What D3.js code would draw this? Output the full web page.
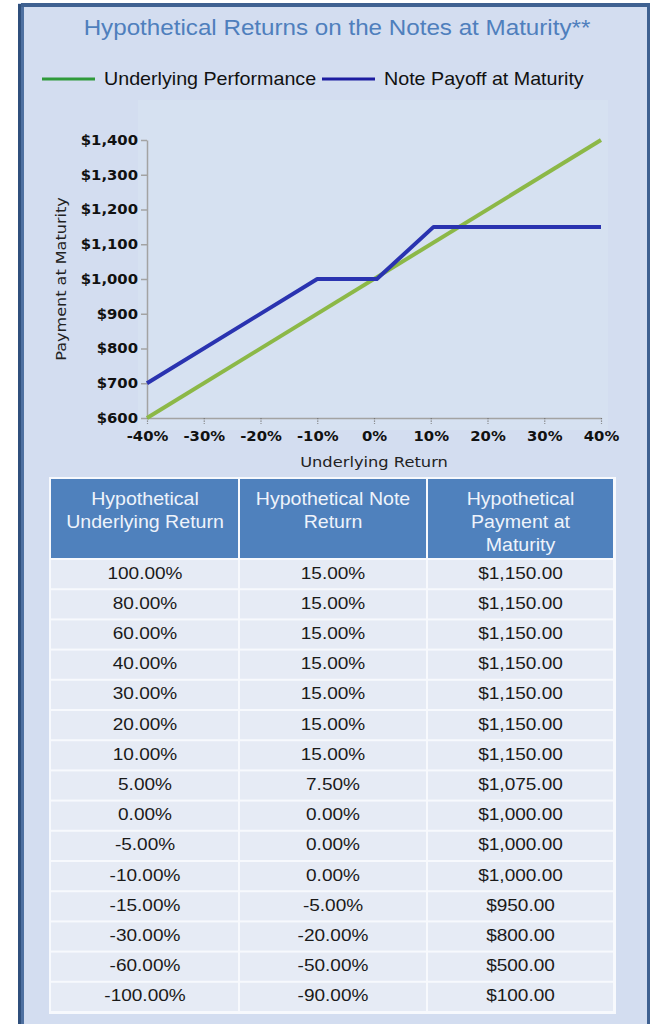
<!DOCTYPE html>
<html><head><meta charset="utf-8">
<script src="https://cdn.jsdelivr.net/npm/d3@7"></script>
<style>
html,body{margin:0;padding:0;background:#fff;}
svg{display:block;}
</style></head>
<body>
<script>
// ---- data ----
const xTicks = [-40, -30, -20, -10, 0, 10, 20, 30, 40];
const yTicks = [600, 700, 800, 900, 1000, 1100, 1200, 1300, 1400];
const underlyingX = [-40, 40];
const underlyingY = [600, 1400];
const noteX = [-40, -10, 0.5, 10.5, 40];
const noteY = [700, 1000, 1000, 1150, 1150];
const seriesNames = ["Underlying Performance", "Note Payoff at Maturity"];
const headers = [["Hypothetical", "Underlying Return"], ["Hypothetical Note", "Return"], ["Hypothetical", "Payment at", "Maturity"]];
const underlyingReturn = [100, 80, 60, 40, 30, 20, 10, 5, 0, -5, -10, -15, -30, -60, -100];
const noteReturn = [15, 15, 15, 15, 15, 15, 15, 7.5, 0, 0, 0, -5, -20, -50, -90];
const payment = [1150, 1150, 1150, 1150, 1150, 1150, 1150, 1075, 1000, 1000, 1000, 950, 800, 500, 100];

const W = 650, H = 1024, SX = 1.1;
const loc = d3.formatLocale({decimal: ".", thousands: ",", grouping: [3], currency: ["$", ""], minus: "-"});
const svg = d3.select("body").append("svg").attr("width", W).attr("height", H);

// frame
svg.append("rect").attr("x", 0).attr("y", 0).attr("width", W).attr("height", H).attr("fill", "#ffffff");
svg.append("rect").attr("x", 18).attr("y", 3).attr("width", W - 18).attr("height", H - 3).attr("fill", "#d3ddf0");
svg.append("rect").attr("x", 18).attr("y", 4).attr("width", 3).attr("height", H).attr("fill", "#2f4f7c");
svg.append("rect").attr("x", 21).attr("y", 4).attr("width", 3).attr("height", H).attr("fill", "#4e70a0");
svg.append("rect").attr("x", 21).attr("y", 3).attr("width", W - 21).attr("height", 4).attr("fill", "#3f6191");
svg.append("rect").attr("x", 647).attr("y", 3).attr("width", 3).attr("height", H).attr("fill", "#3f6191");

function txt(g, x, y, s, opts) {
  const t = g.append("text").attr("transform", `translate(${x},${y}) scale(${SX},1)`)
    .text(s).attr("font-family", opts.family || "'Liberation Sans', Arial, sans-serif")
    .attr("font-size", opts.size).attr("fill", opts.fill || "#1a1a1a")
    .attr("text-anchor", opts.anchor || "middle");
  if (opts.weight) t.attr("font-weight", opts.weight);
  return t;
}

// title
txt(svg, 337, 35, "Hypothetical Returns on the Notes at Maturity**", {size: 22, fill: "#4f7fbd"});

// legend
const lineColors = ["#2f9a3a", "#1c1ca0"];
const legendX = [42, 322];
seriesNames.forEach((n, i) => {
  svg.append("line").attr("x1", legendX[i]).attr("x2", legendX[i] + 53).attr("y1", 79).attr("y2", 79)
    .attr("stroke", lineColors[i]).attr("stroke-width", 3);
  txt(svg, legendX[i] + 62, 85, n, {size: 17.9, anchor: "start", fill: "#111"});
});

// plot
const x = d3.scaleLinear().domain([-40, 40]).range([147, 601]);
const y = d3.scaleLinear().domain([600, 1400]).range([418, 140]);
svg.append("rect").attr("x", 138).attr("y", 100).attr("width", 470).attr("height", 330).attr("fill", "#d6e1f1");

const axisColor = "#a3a3a3";
const gy = svg.append("g").attr("transform", `translate(${x(-40)},0)`)
  .call(d3.axisLeft(y).tickValues(yTicks).tickSize(6).tickSizeOuter(0).tickPadding(3)
    .tickFormat(d => "$" + loc.format(",")(d)));
gy.select(".domain").attr("stroke", axisColor).attr("stroke-width", 1.5);
gy.selectAll(".tick line").attr("stroke", axisColor).attr("stroke-width", 1.5);
gy.selectAll(".tick text")
  .attr("font-family", "'DejaVu Sans', sans-serif").attr("font-weight", "bold").attr("font-size", 13.5)
  .attr("fill", "#111").attr("transform", `translate(-9,0) scale(${SX},1) translate(9,0)`);

const gx = svg.append("g").attr("transform", `translate(0,${y(600)})`)
  .call(d3.axisBottom(x).tickValues(xTicks).tickSize(6).tickSizeOuter(0).tickPadding(7)
    .tickFormat(d => loc.format("")(d) + "%"));
gx.select(".domain").attr("stroke", axisColor).attr("stroke-width", 1.5);
gx.selectAll(".tick line").attr("stroke", "#777").attr("stroke-width", 1.2).attr("stroke-dasharray", "1.2,1.4");
gx.selectAll(".tick text").attr("font-family", "'DejaVu Sans', sans-serif").attr("font-weight", "bold")
  .attr("font-size", 13.5).attr("fill", "#111").attr("transform", `scale(${SX},1)`);

txt(svg, x(0), 467, "Underlying Return", {size: 14.8, family: "'DejaVu Sans', sans-serif", fill: "#222"});
svg.append("text").attr("transform", `translate(66,${y(1000)}) rotate(-90) scale(${SX},1)`)
  .attr("text-anchor", "middle").attr("font-family", "'DejaVu Sans', sans-serif").attr("font-size", 14.6)
  .attr("fill", "#222").text("Payment at Maturity");

const line = d3.line().x(d => x(d[0])).y(d => y(d[1]));
svg.append("path").attr("d", line(d3.zip(underlyingX, underlyingY))).attr("fill", "none")
  .attr("stroke", "#8cb847").attr("stroke-width", 4);
svg.append("path").attr("d", line(d3.zip(noteX, noteY))).attr("fill", "none")
  .attr("stroke", "#2a33b0").attr("stroke-width", 4).attr("stroke-linejoin", "round");

// table
const colEdges = [51, 239, 427, 614];
const headTop = 479, headBot = 558, rowH = 30.2;
const tg = svg.append("g");
tg.append("rect").attr("x", colEdges[0] - 2).attr("y", headTop - 2)
  .attr("width", colEdges[3] - colEdges[0] + 4).attr("height", headBot - headTop + 2 + rowH * 15 + 3).attr("fill", "#f7f9fd");
headers.forEach((lines, c) => {
  tg.append("rect").attr("x", colEdges[c] + (c ? 1 : 0)).attr("y", headTop)
    .attr("width", colEdges[c + 1] - colEdges[c] - (c ? 2 : 1)).attr("height", headBot - headTop).attr("fill", "#4f81bd");
  lines.forEach((l, k) => txt(tg, (colEdges[c] + colEdges[c + 1]) / 2, 505 + k * 23, l, {size: 17.8, fill: "#eef3fb"}));
});
const fmtPct = d => loc.format(".2f")(d) + "%";
const fmtUsd = d => "$" + loc.format(",.2f")(d);
underlyingReturn.forEach((u, r) => {
  const vals = [fmtPct(u), fmtPct(noteReturn[r]), fmtUsd(payment[r])];
  const top = headBot + 1 + r * rowH;
  vals.forEach((v, c) => {
    tg.append("rect").attr("x", colEdges[c] + (c ? 1 : 0)).attr("y", top + 1)
      .attr("width", colEdges[c + 1] - colEdges[c] - (c ? 2 : 1)).attr("height", rowH - 2).attr("fill", "#e6ebf5");
    txt(tg, (colEdges[c] + colEdges[c + 1]) / 2, top + 19.5, v, {size: 17.3, fill: "#1a1a1a"});
  });
});
</script>
</body></html>
